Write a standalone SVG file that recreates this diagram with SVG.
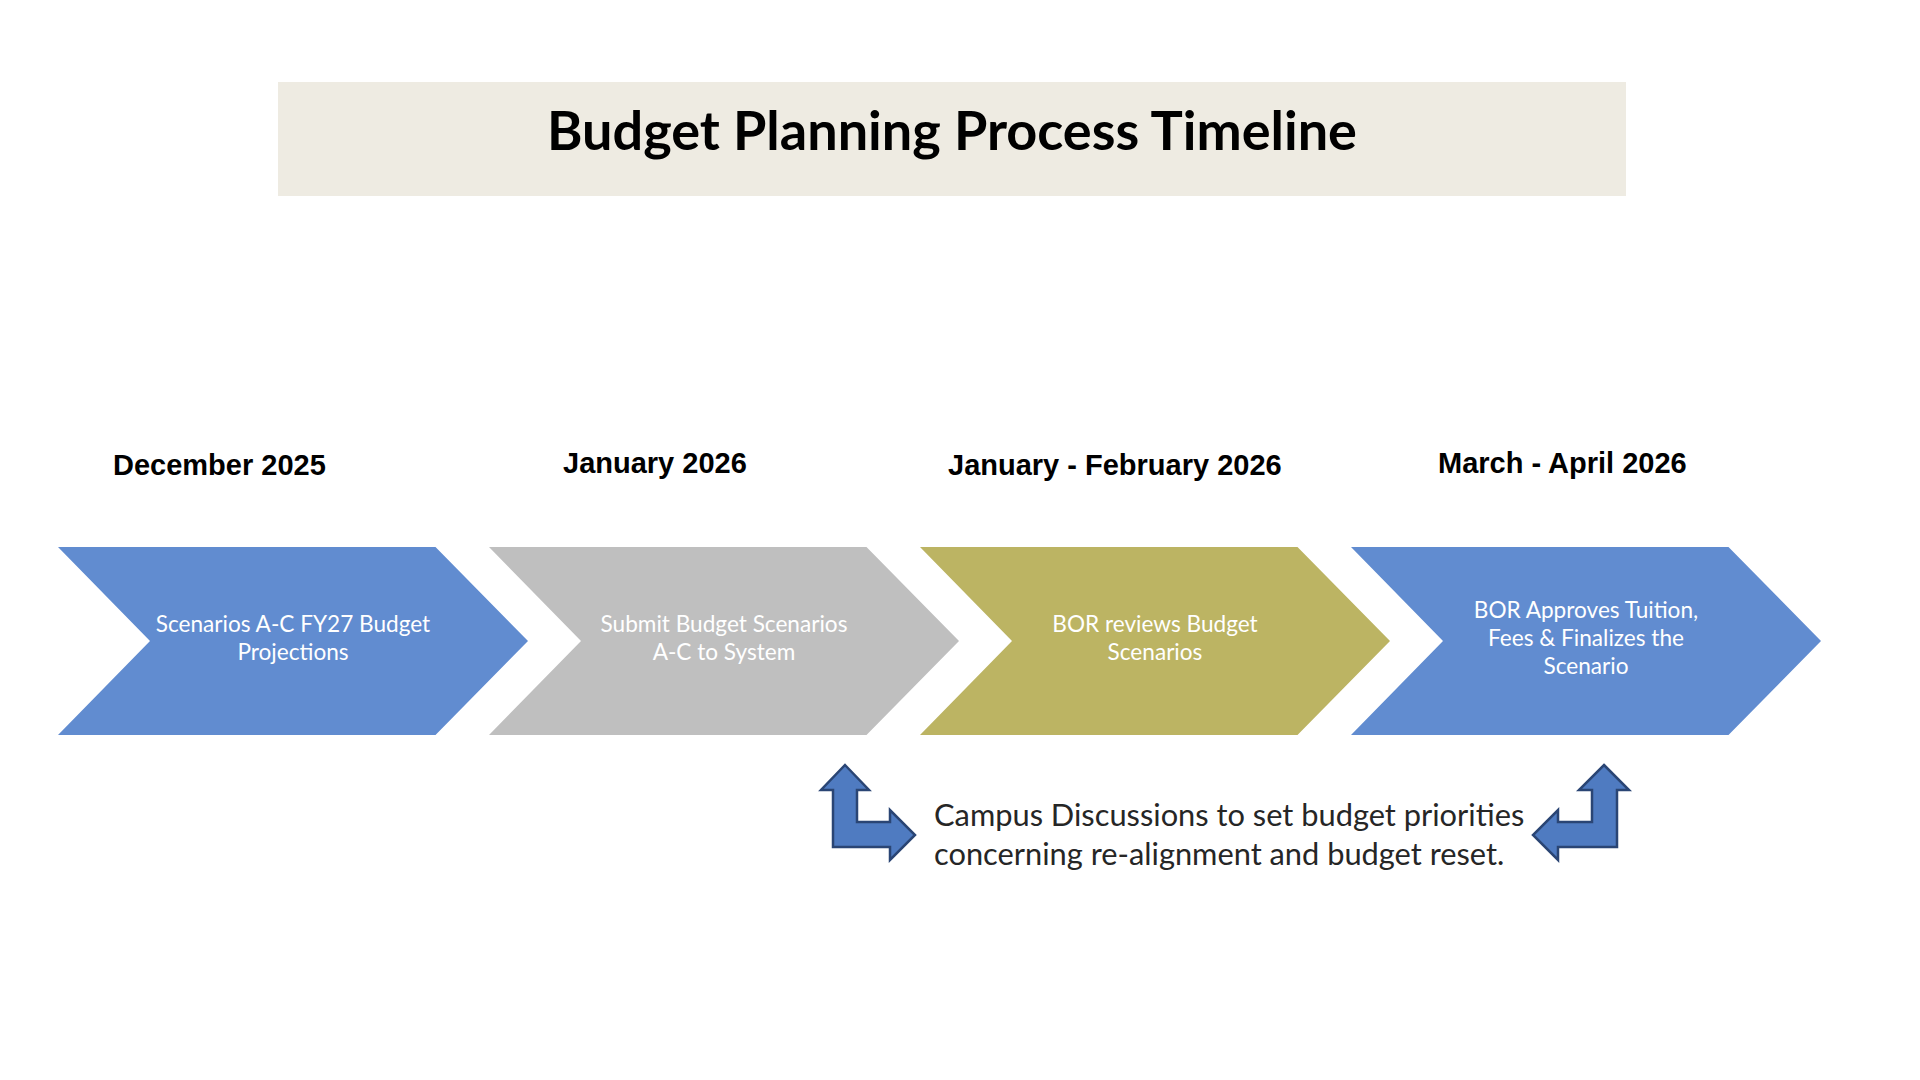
<svg xmlns="http://www.w3.org/2000/svg" width="1920" height="1080" viewBox="0 0 1920 1080">
<style>
  .title { font-family: Lato, "Liberation Sans", sans-serif; font-weight: 700; font-size: 54px; fill: #000000; }
  .date { font-family: "Liberation Sans", Arial, sans-serif; font-weight: 700; font-size: 29px; fill: #000000; }
  .chev-text { font-family: Lato, "Liberation Sans", sans-serif; font-size: 22.6px; fill: #FFFFFF; text-anchor: middle; }
  .note { font-family: Lato, "Liberation Sans", sans-serif; font-size: 30.8px; fill: #262626; }
  .blue { fill: #618CD0; }
  .gray { fill: #BFBFBF; }
  .olive { fill: #BCB463; }
  .bent { fill: #4F7BC1; stroke: #2A4574; stroke-width: 2.5; stroke-linejoin: miter; }
</style>
<rect x="0" y="0" width="1920" height="1080" fill="#FFFFFF"/>

<g id="title">
  <rect x="278" y="82" width="1348" height="114" fill="#EEEBE2"/>
  <text class="title" x="952" y="150" text-anchor="middle">Budget Planning Process Timeline</text>
</g>

<g id="date-dec-2025"><text class="date" x="113" y="475">December 2025</text></g>
<g id="date-jan-2026"><text class="date" x="563" y="473">January 2026</text></g>
<g id="date-jan-feb-2026"><text class="date" x="948" y="475">January - February 2026</text></g>
<g id="date-mar-apr-2026"><text class="date" x="1438" y="473">March - April 2026</text></g>

<g id="step1">
  <polygon class="blue" points="58,547 435.5,547 528,641 435.5,735 58,735 150,641"/>
  <text class="chev-text" x="293" y="632">Scenarios A-C FY27 Budget</text>
  <text class="chev-text" x="293" y="660">Projections</text>
</g>
<g id="step2">
  <polygon class="gray" points="489,547 866.5,547 959,641 866.5,735 489,735 581,641"/>
  <text class="chev-text" x="724" y="632">Submit Budget Scenarios</text>
  <text class="chev-text" x="724" y="660">A-C to System</text>
</g>
<g id="step3">
  <polygon class="olive" points="920,547 1297.5,547 1390,641 1297.5,735 920,735 1012,641"/>
  <text class="chev-text" x="1155" y="632">BOR reviews Budget</text>
  <text class="chev-text" x="1155" y="660">Scenarios</text>
</g>
<g id="step4">
  <polygon class="blue" points="1351,547 1728.5,547 1821,641 1728.5,735 1351,735 1443,641"/>
  <text class="chev-text" x="1586" y="618">BOR Approves Tuition,</text>
  <text class="chev-text" x="1586" y="646">Fees &amp; Finalizes the</text>
  <text class="chev-text" x="1586" y="674">Scenario</text>
</g>

<g id="connectors">
  <path class="bent" d="M845,765 L869,790 L857,790 L857,822 L890,822 L890,810 L915,835 L890,860 L890,847 L833,847 L833,790 L821,790 Z"/>
  <path class="bent" d="M1604,765 L1629,790 L1617,790 L1617,847 L1558,847 L1558,860 L1533,835 L1558,810 L1558,822 L1592,822 L1592,790 L1579,790 Z"/>
</g>

<g id="campus-note">
  <text class="note" x="934" y="826">Campus Discussions to set budget priorities</text>
  <text class="note" x="934" y="865">concerning re-alignment and budget reset.</text>
</g>
</svg>
